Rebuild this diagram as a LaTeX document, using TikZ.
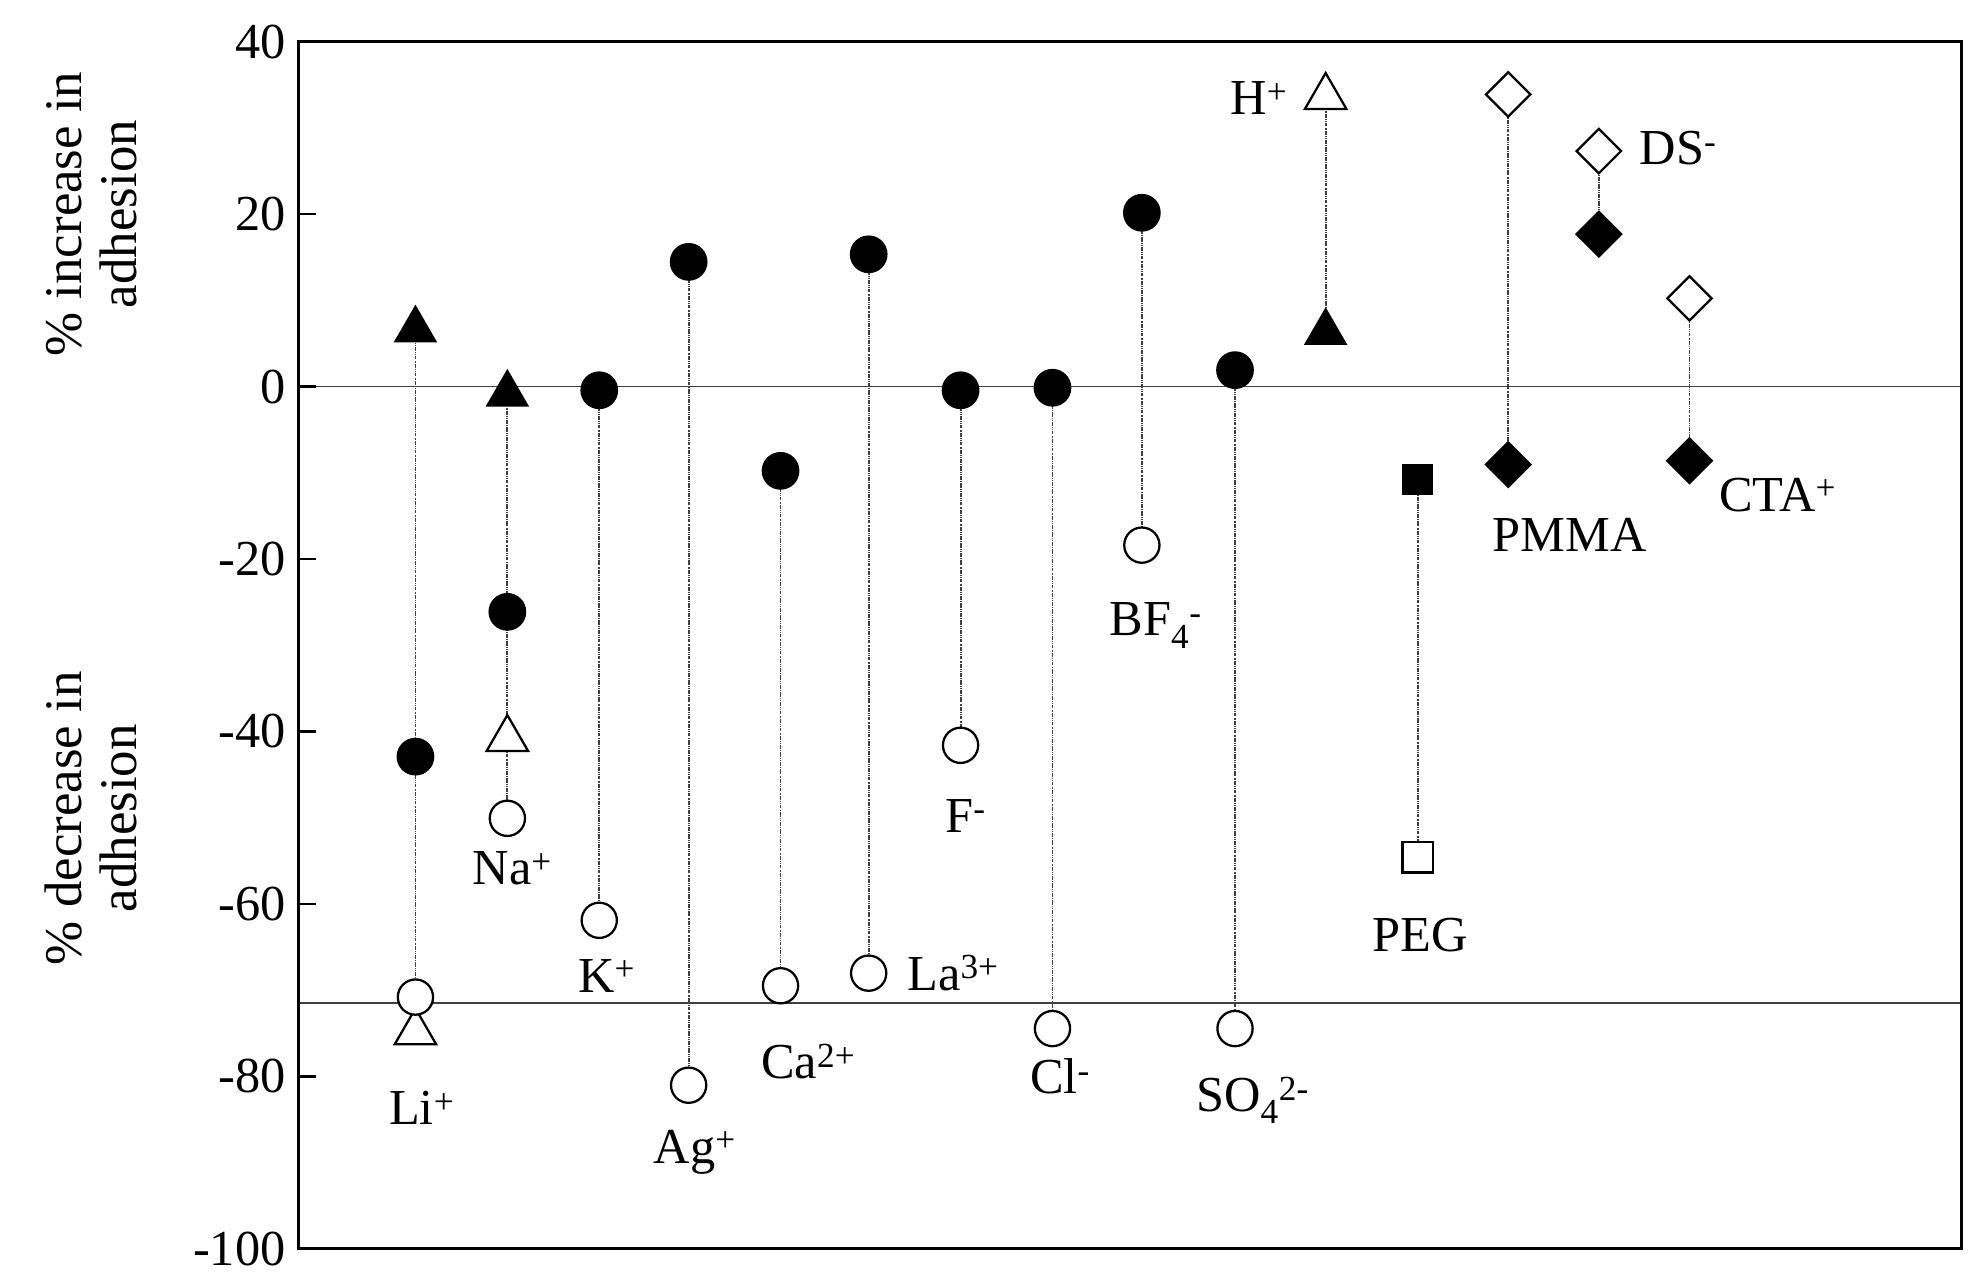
\documentclass[tikz,border=0pt]{standalone}
\usepackage{fontspec}
\setmainfont{Liberation Serif}
\usetikzlibrary{shapes.geometric}
\newcommand{\sps}[1]{\textsuperscript{#1}}
\begin{document}
\begin{tikzpicture}[x=1pt,y=-1pt,
 lab/.style={font=\fontsize{40}{42}\selectfont,inner sep=0pt},
 tl/.style={font=\fontsize{40}{42}\selectfont,anchor=east,inner sep=0pt},
 fc/.style={circle,fill=black,minimum size=30pt,inner sep=0pt},
 oc/.style={circle,draw=black,line width=1.8pt,fill=white,minimum size=28pt,inner sep=0pt},
 ft/.style={regular polygon,regular polygon sides=3,fill=black,minimum size=40pt,inner sep=0pt},
 ot/.style={regular polygon,regular polygon sides=3,draw=black,line width=1.8pt,fill=white,minimum size=38pt,inner sep=0pt},
 fd/.style={diamond,fill=black,minimum size=38pt,inner sep=0pt},
 od/.style={diamond,draw=black,line width=1.8pt,fill=white,minimum size=36pt,inner sep=0pt},
 fs/.style={rectangle,fill=black,minimum size=25pt,inner sep=0pt},
 os/.style={rectangle,draw=black,line width=1.8pt,fill=white,minimum size=24pt,inner sep=0pt},
 dl/.style={densely dash dot dot,line width=1.5pt,black!75}]
\useasboundingbox (0,0) rectangle (1568,1021);
\draw[line width=1.5pt,gray!50!black] (237,307) -- (1558,307);
\draw[line width=1.5pt,gray!50!black] (237,797) -- (1558,797);
\draw[line width=2.5pt] (237,33) rectangle (1558,992);
\foreach \v/\y in {40/33,20/170,0/307,-20/444,-40/581,-60/718,-80/855,-100/992}{
  \draw[line width=2pt] (237,\y) -- (251,\y);
  \node[tl] at (227,\y) {\v};}
\node[lab,font=\fontsize{42}{44}\selectfont,rotate=90] at (78,170) {\begin{tabular}{c}\% increase in\\adhesion\end{tabular}};
\node[lab,font=\fontsize{42}{44}\selectfont,rotate=90] at (78,650) {\begin{tabular}{c}\% decrease in\\adhesion\end{tabular}};
\foreach \x/\a/\b in {330/262/792,403/313/650,476/310/731,547/208/862,620/374/783,690/202/773,763/310/592,836/308/817,907/169/433,981/294/817,1053/77/264,1126/381/681,1198/75/369,1270/120/186,1342/237/366}
  \draw[dl] (\x,\a) -- (\x,\b);
\node[ft] (li1) at (330,262) {};
\node[fc] (li2) at (330,601) {};
\node[ot] (li4) at (330,820) {};
\node[oc] (li3) at (330,792) {};
\node[lab] (lil) at (335,880) {Li\sps{+}};
\node[ft] (na1) at (403,313) {};
\node[fc] (na2) at (403,486) {};
\node[ot] (na3) at (403,587) {};
\node[oc] (na4) at (403,650) {};
\node[lab] (nal) at (407,690) {Na\sps{+}};
\node[fc] (k1) at (476,310) {}; \node[oc] (k2) at (476,731) {}; \node[lab] (kl) at (482,775) {K\sps{+}};
\node[fc] (ag1) at (547,208) {}; \node[oc] (ag2) at (547,862) {}; \node[lab] (agl) at (552,915) {Ag\sps{+}};
\node[fc] (ca1) at (620,374) {}; \node[oc] (ca2) at (620,783) {}; \node[lab] (cal) at (642,843) {Ca\sps{2+}};
\node[fc] (la1) at (690,202) {}; \node[oc] (la2) at (690,773) {}; \node[lab] (lal) at (757,773) {La\sps{3+}};
\node[fc] (f1) at (763,310) {}; \node[oc] (f2) at (763,592) {}; \node[lab] (fl) at (767,648) {F\sps{-}};
\node[fc] (cl1) at (836,308) {}; \node[oc] (cl2) at (836,817) {}; \node[lab] (cll) at (842,855) {Cl\sps{-}};
\node[fc] (bf1) at (907,169) {}; \node[oc] (bf2) at (907,433) {}; \node[lab] (bfl) at (918,497) {BF\textsubscript{4}\sps{-}};
\node[fc] (so1) at (981,294) {}; \node[oc] (so2) at (981,817) {}; \node[lab] (sol) at (995,874) {SO\textsubscript{4}\sps{2-}};
\node[ot] (h1) at (1053,77) {}; \node[ft] (h2) at (1053,264) {}; \node[lab] (hl) at (1000,78) {H\sps{+}};
\node[fs] (peg1) at (1126,381) {}; \node[os] (peg2) at (1126,681) {}; \node[lab] (pegl) at (1128,743) {PEG};
\node[od] (pm1) at (1198,75) {}; \node[fd] (pm2) at (1198,369) {}; \node[lab] (pml) at (1247,425) {PMMA};
\node[od] (ds1) at (1270,120) {}; \node[fd] (ds2) at (1270,186) {}; \node[lab] (dsl) at (1333,118) {DS\sps{-}};
\node[od] (ct1) at (1342,237) {}; \node[fd] (ct2) at (1342,366) {}; \node[lab] (ctl) at (1412,393) {CTA\sps{+}};
\end{tikzpicture}
\end{document}
